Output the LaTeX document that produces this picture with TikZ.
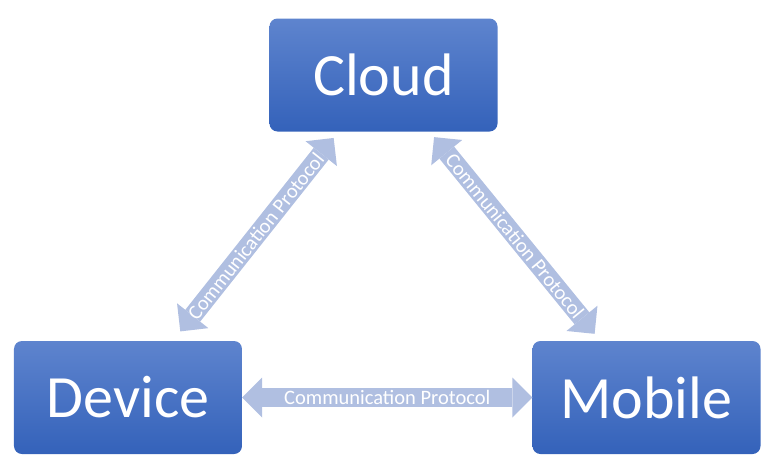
\documentclass[tikz,border=0pt]{standalone}
\usepackage{fontspec}
\setmainfont{Carlito}
\usepackage{tikz}
\usetikzlibrary{arrows.meta}
\usetikzlibrary{positioning}
\definecolor{boxtop}{RGB}{94,132,206}
\definecolor{boxbottom}{RGB}{52,98,186}
\definecolor{protofill}{RGB}{176,191,225}
\tikzset{
    part/.style={
           rectangle,
           rounded corners=8pt,
           top color=boxtop, bottom color=boxbottom,
           draw=none,
           minimum width=228pt,
           minimum height=113pt,
           inner sep=0pt,
           text=white,
           font=\fontsize{60}{70}\selectfont,
           text centered,
           },
    proto/.style={
           draw=protofill,
           line width=19pt,
           {Triangle[width=40pt,length=20pt,line width=0pt]}-{Triangle[width=40pt,length=20pt,line width=0pt]},
           },
    protolabel/.style={
           text=white,
           font=\fontsize{20.5}{24}\selectfont,
           inner sep=0pt,
           },
}

\begin{document}
\begin{tikzpicture}[x=1pt,y=1pt]
      % keep the page the size of the reference
      \useasboundingbox (-128,-61.5) rectangle (648,397.5);

      % PART DEVICE
      \node[part] (DEVICE) at (0,0) {Device};

      % PART MOBILE
      \node[part,
          right of=DEVICE,
          node distance=518.5pt,
          anchor=center] (MOBILE) {Mobile};

      % PART CLOUD
      \node[part,
          above of=DEVICE,
          node distance=322.5pt,
          xshift=255.5pt,
          anchor=center] (CLOUD) {Cloud};

      % draw the protocol arrows with the text on them
      \path
      (DEVICE)    edge [proto] node[protolabel]{Communication Protocol} (MOBILE)
      (DEVICE)    edge [proto, shorten <=12pt, shorten >=8pt]
                       node[protolabel, sloped]{Communication Protocol} (CLOUD)
      (CLOUD)     edge [proto, shorten <=7pt, shorten >=9pt]
                       node[protolabel, sloped]{Communication Protocol} (MOBILE)
      ;

\end{tikzpicture}
\end{document}
